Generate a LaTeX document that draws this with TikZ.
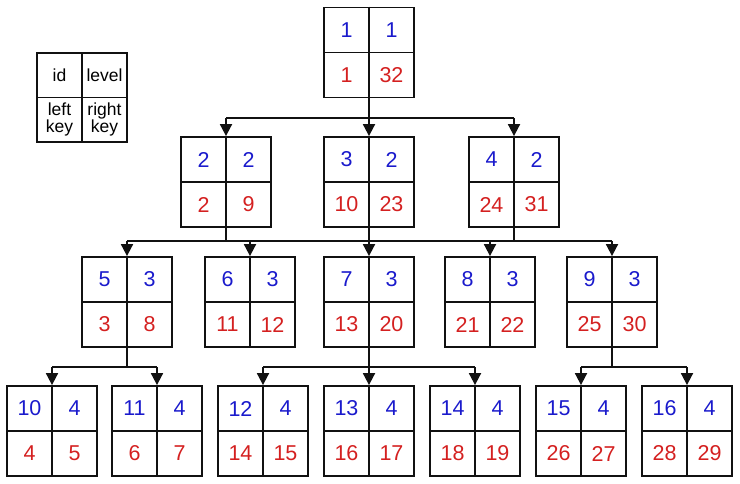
\documentclass[tikz,border=0pt]{standalone}
\usepackage{fontspec}
\setmainfont{Liberation Sans}
\usepackage{tikz}
\usetikzlibrary{arrows.meta,calc}
\definecolor{IdBlue}{HTML}{1A1ACC}
\definecolor{KeyRed}{HTML}{D42020}
\definecolor{LineBlack}{HTML}{111111}

% name, x, y, id, level, left key, right key
\newcommand{\treecell}[7]{%
  \node[treebox] (#1) at (#2,#3) {};
  \draw[gridline] (#1.north) -- (#1.south);
  \draw[gridline] (#1.west) -- (#1.east);
  \node[bluenum] (#1-id) at ($(#1.center)+(-22.5,-22.5)$) {#4};
  \node[bluenum] (#1-lv) at ($(#1.center)+(22.5,-22.5)$) {#5};
  \node[rednum] (#1-lk) at ($(#1.center)+(-22.5,22.5)$) {#6};
  \node[rednum] (#1-rk) at ($(#1.center)+(22.5,22.5)$) {#7};
}

\begin{document}
\begin{tikzpicture}[x=1pt, y=-1pt,
  treebox/.style={draw=LineBlack, line width=1.8pt, minimum width=90pt, minimum height=90pt, inner sep=0pt},
  gridline/.style={draw=LineBlack, line width=1.8pt},
  bluenum/.style={text=IdBlue, font=\fontsize{21.5}{25}\selectfont, inner sep=0pt},
  rednum/.style={text=KeyRed, font=\fontsize{21.5}{25}\selectfont, inner sep=0pt},
  legtext/.style={font=\fontsize{17.5}{17}\selectfont, align=center, inner sep=0pt},
  link/.style={draw=LineBlack, line width=1.8pt},
  arr/.style={link, -{Triangle[length=12pt, width=12pt]}}]
  \useasboundingbox (0,0) rectangle (740,484);

  % legend
  \node[treebox, minimum height=89pt] (leg) at (82,97.5) {};
  \draw[gridline] (leg.north) -- (leg.south);
  \draw[gridline] (leg.west) -- (leg.east);
  \node[legtext] (leg-id) at ($(leg.center)+(-22.5,-22)$) {id};
  \node[legtext] (leg-lv) at ($(leg.center)+(22.5,-22)$) {level};
  \node[legtext] (leg-lk) at ($(leg.center)+(-22.5,22)$) {left\\key};
  \node[legtext] (leg-rk) at ($(leg.center)+(22.5,22)$) {right\\key};

  % level 1
  \treecell{n1}{369}{52.5}{1}{1}{1}{32}
  % level 2
  \treecell{n2}{226}{182}{2}{2}{2}{9}
  \treecell{n3}{369}{182}{3}{2}{10}{23}
  \treecell{n4}{514}{182}{4}{2}{24}{31}
  % level 3
  \treecell{n5}{127}{302}{5}{3}{3}{8}
  \treecell{n6}{250}{302}{6}{3}{11}{12}
  \treecell{n7}{369}{302}{7}{3}{13}{20}
  \treecell{n8}{490}{302}{8}{3}{21}{22}
  \treecell{n9}{612}{302}{9}{3}{25}{30}
  % level 4
  \treecell{n10}{52}{431}{10}{4}{4}{5}
  \treecell{n11}{157}{431}{11}{4}{6}{7}
  \treecell{n12}{263}{431}{12}{4}{14}{15}
  \treecell{n13}{369}{431}{13}{4}{16}{17}
  \treecell{n14}{475}{431}{14}{4}{18}{19}
  \treecell{n15}{581}{431}{15}{4}{26}{27}
  \treecell{n16}{687}{431}{16}{4}{28}{29}

  % buses
  \coordinate (b1) at (369,118);
  \coordinate (b2) at (369,241);
  \coordinate (b3) at (369,367);

  \draw[link] (n1.south) -- (n1.south |- b1);
  \draw[link] (n2.north |- b1) -- (n4.north |- b1);
  \foreach \c in {n2,n3,n4}
    \draw[arr] (\c.north |- b1) -- (\c.north);

  \foreach \p in {n2,n3,n4}
    \draw[link] (\p.south) -- (\p.south |- b2);
  \draw[link] (n5.north |- b2) -- (n9.north |- b2);
  \foreach \c in {n5,n6,n7,n8,n9}
    \draw[arr] (\c.north |- b2) -- (\c.north);

  \foreach \p in {n5,n7,n9}
    \draw[link] (\p.south) -- (\p.south |- b3);
  \draw[link] (n10.north |- b3) -- (n11.north |- b3);
  \draw[link] (n12.north |- b3) -- (n14.north |- b3);
  \draw[link] (n15.north |- b3) -- (n16.north |- b3);
  \foreach \c in {n10,n11,n12,n13,n14,n15,n16}
    \draw[arr] (\c.north |- b3) -- (\c.north);
\end{tikzpicture}
\end{document}
